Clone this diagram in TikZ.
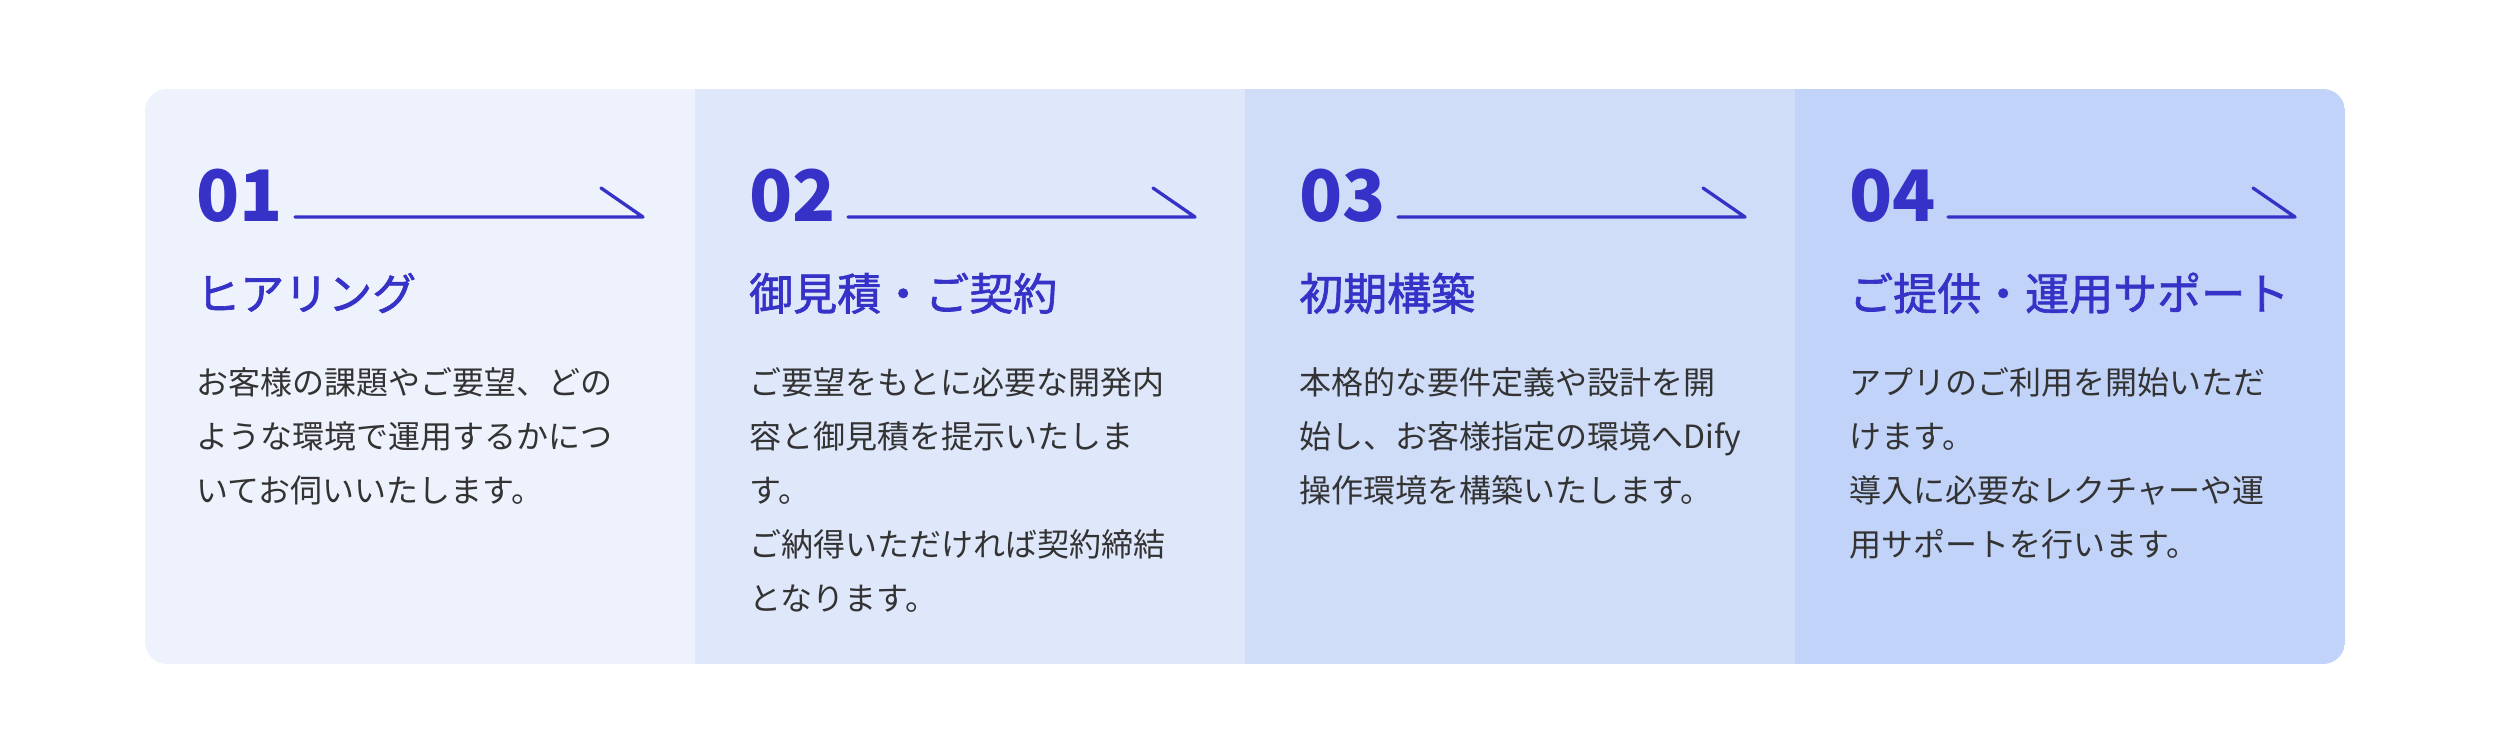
\documentclass[tikz,border=0pt]{standalone}
\usepackage{fontspec}
\setmainfont{Noto Sans CJK JP}
\newfontfamily\jpmid{Noto Sans CJK JP}[FakeBold=1.5]

\definecolor{stepblue}{HTML}{3632C8}
\definecolor{stepgray}{HTML}{333333}
\definecolor{paneone}{HTML}{EEF2FD}
\definecolor{panetwo}{HTML}{DFE7FB}
\definecolor{panethree}{HTML}{D0DDF9}
\definecolor{panefour}{HTML}{C1D3F8}

\tikzset{
  num/.style={anchor=base west, inner sep=0pt, text=stepblue, font=\fontsize{71}{71}\selectfont\bfseries},
  ttl/.style={anchor=base west, inner sep=0pt, text=stepblue, font=\fontsize{44}{44}\selectfont\jpmid},
  body/.style={anchor=base west, inner sep=0pt, text=stepgray, align=left, font=\fontsize{32}{54}\selectfont},
  arr/.style={stepblue, line width=3.3pt, line cap=round, line join=round},
}

\begin{document}
\begin{tikzpicture}[x=1pt, y=-1pt]
  \useasboundingbox (0,0) rectangle (2494,736);

  % panels
  \begin{scope}
    \clip [rounded corners=22pt] (145,89) rectangle (2345,664);
    \fill [paneone] (145,89) rectangle (695,664);
    \fill [panetwo] (695,89) rectangle (1245,664);
    \fill [panethree] (1245,89) rectangle (1795,664);
    \fill [panefour] (1795,89) rectangle (2345,664);
  \end{scope}

  % 01 (body nodes sit on their last baseline)
  \node [num] (n1) at (196,221) {01};
  \coordinate (s1) at (295,217);
  \coordinate (e1) at (643,217);
  \draw [arr] (s1) -- (e1) -- ++(-42,-29);
  \node [ttl] (t1) at (196,310) {ヒアリング};
  \node [body] (b1) at (196,502) {お客様の課題やご要望、どの\\ような環境で運用するかにつ\\いてお伺いいたします。};

  % 02
  \node [num] (n2) at (749,221) {02};
  \coordinate (s2) at (848,217);
  \coordinate (e2) at (1195,217);
  \draw [arr] (s2) -- (e2) -- ++(-42,-29);
  \node [ttl] (t2) at (749,310) {御見積・ご契約};
  \node [body] (b2) at (749,610) {ご要望をもとに必要な開発内\\容と御見積を提示いたしま\\す。\\ご納得いただければ契約締結\\となります。};

  % 03
  \node [num] (n3) at (1299,221) {03};
  \coordinate (s3) at (1398,217);
  \coordinate (e3) at (1745,217);
  \draw [arr] (s3) -- (e3) -- ++(-42,-29);
  \node [ttl] (t3) at (1299,310) {初期構築};
  \node [body] (b3) at (1299,502) {本格的な要件定義や設計を開\\始し、お客様指定の環境へDify\\操作環境を構築いたします。};

  % 04
  \node [num] (n4) at (1849,221) {04};
  \coordinate (s4) at (1948,217);
  \coordinate (e4) at (2295,217);
  \draw [arr] (s4) -- (e4) -- ++(-42,-29);
  \node [ttl] (t4) at (1849,310) {ご提供・運用サポート};
  \node [body] (b4) at (1849,556) {アプリのご利用を開始いただ\\けます。\\導入に必要なレクチャーや運\\用サポートを行います。};
\end{tikzpicture}
\end{document}
